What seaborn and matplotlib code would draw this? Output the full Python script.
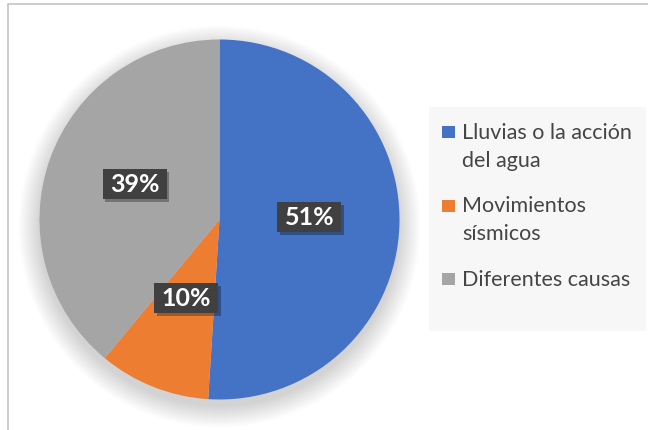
import matplotlib
matplotlib.use("Agg")
import matplotlib.pyplot as plt
from matplotlib.patches import Rectangle, Circle
import seaborn as sns

# ---- data ----
categories = ["Lluvias o la acción\ndel agua", "Movimientos\nsísmicos", "Diferentes causas"]
values = [51, 10, 39]
colors = ["#4472C4", "#ED7D31", "#A5A5A5"]

sns.set_theme(style="white")
plt.rcParams['font.family'] = ['Lato', 'DejaVu Sans']

W, H = 648, 431
fig = plt.figure(figsize=(W / 100, H / 100), dpi=100)
fig.patch.set_facecolor("white")

def fx(px):
    return px / W

def fy(py):  # py measured from top
    return 1 - py / H

# outer frame (only top and left visible)
fig.add_artist(Rectangle((fx(8), fy(H + 20)), fx(W + 20), (H + 15) / H,
                         transform=fig.transFigure, fill=False,
                         edgecolor="#BFBFBF", linewidth=1.1))

# pie axes
cx, cy, R = 219.5, 220.5, 180.0
ax = fig.add_axes([fx(cx - R), fy(cy + R), 2 * R / W, 2 * R / H])
ax.set_axis_off()
px = 1.0 / R  # data units per pixel

# soft shadow under pie
for k in range(22):
    ax.add_patch(Circle((0, -7 * px), 1 + k * px, facecolor="black",
                        edgecolor="none", alpha=0.006, clip_on=False, zorder=0))

wedges, texts, autotexts = ax.pie(
    values, colors=colors, startangle=90, counterclock=False,
    autopct="%1.0f%%", pctdistance=0.5,
    wedgeprops=dict(linewidth=0, zorder=1),
    textprops=dict(color="white", fontweight="bold", fontsize=18),
)
ax.set_xlim(-1, 1)
ax.set_ylim(-1, 1)

bw, bh = 64 * px, 30 * px
for t in autotexts:
    x, y = t.get_position()
    y += 5.5 * px
    t.set_position((x, y))
    t.set_zorder(5)
    t.set_va("center")
    t.set_ha("center")
    ax.add_patch(Rectangle((x - bw / 2 + 2.5 * px, y - bh / 2 - 3 * px), bw, bh,
                           facecolor="black", alpha=0.3, edgecolor="none",
                           zorder=3, clip_on=False))
    ax.add_patch(Rectangle((x - bw / 2, y - bh / 2), bw, bh,
                           facecolor="#404040", edgecolor="none",
                           zorder=4, clip_on=False))

# legend (manual, to match first-line alignment of markers)
fig.add_artist(Rectangle((fx(429), fy(332)), fx(646 - 429), (332 - 108) / H,
                         transform=fig.transFigure, facecolor="#F7F7F7",
                         edgecolor="none"))
baseline = 139.0
for lab, col in zip(categories, colors):
    lines = lab.split("\n")
    fig.add_artist(Rectangle((fx(442), fy(baseline)), fx(12.5), 12 / H,
                             transform=fig.transFigure, facecolor=col,
                             edgecolor="none"))
    for i, ln in enumerate(lines):
        fig.text(fx(462), fy(baseline + 28 * i), ln, fontsize=15.5,
                 color="#454545", ha="left", va="baseline")
    baseline += 28 * (len(lines) - 1) + 45.5

fig.savefig("out.png", dpi=100)
